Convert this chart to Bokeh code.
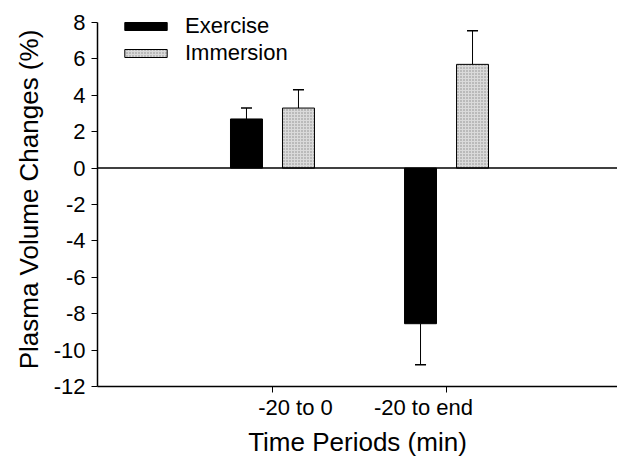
from bokeh.plotting import figure
from bokeh.models import Range1d, FixedTicker, Legend, LegendItem, Span, LinearAxis
from bokeh.embed import file_html
from bokeh.resources import INLINE

categories = ["-20 to 0", "-20 to end"]
exercise = [2.7, -8.55]
exercise_err = [0.6, 2.25]
immersion = [3.3, 5.7]
immersion_err = [1.0, 1.85]
y_ticks = [8, 6, 4, 2, 0, -2, -4, -6, -8, -10, -12]

group_x = [3.365, 6.712]
label_x = [3.808, 6.269]
off = 0.5
bw = 0.615
cap = 0.106
FONT = "Liberation Sans"

p = figure(width=617, height=459, output_backend="svg", toolbar_location=None,
           x_range=Range1d(0, 10), y_range=Range1d(-12, 8.55),
           min_border_left=97, min_border_right=0, min_border_top=12, min_border_bottom=70)
p.outline_line_color = None
p.grid.grid_line_color = None
p.background_fill_color = "white"

ex_x = [g - off for g in group_x]
im_x = [g + off for g in group_x]

r_ex = p.vbar(x=ex_x, top=exercise, bottom=0, width=bw, fill_color="black", line_color="black")
r_im = p.vbar(x=im_x, top=immersion, bottom=0, width=bw, fill_color="#dadada", line_color="black",
              hatch_pattern="dot", hatch_color="#8a8a8a", hatch_scale=3)

def errbars(xs, vals, errs):
    ends = [v + e if v >= 0 else v - e for v, e in zip(vals, errs)]
    p.segment(x0=xs, y0=vals, x1=xs, y1=ends, line_color="black", line_width=1)
    p.segment(x0=[x - cap for x in xs], y0=ends, x1=[x + cap for x in xs], y1=ends,
              line_color="black", line_width=1.5)

errbars(ex_x, exercise, exercise_err)
errbars(im_x, immersion, immersion_err)

p.add_layout(Span(location=0, dimension="width", line_color="black", line_width=1.5))

# y axis
ya = p.yaxis[0]
ya.ticker = FixedTicker(ticks=y_ticks)
ya.bounds = (-12, 8)
ya.major_label_overrides = {t: str(t) for t in y_ticks}
ya.minor_tick_line_color = None
ya.axis_label = "Plasma Volume Changes (%)"
ya.major_label_text_font_size = "22px"
ya.axis_label_text_font_size = "26px"
ya.axis_label_standoff = 7
ya.major_label_standoff = 6

# x axis: tick marks at group centres (no labels)
xa = p.xaxis[0]
xa.ticker = FixedTicker(ticks=group_x)
xa.major_label_overrides = {x: "" for x in group_x}
xa.major_label_text_font_size = "1px"
xa.major_label_standoff = 0
xa.minor_tick_line_color = None

# second x axis carrying the period labels and the title
xl = LinearAxis(ticker=FixedTicker(ticks=label_x),
                major_label_overrides={x: c for x, c in zip(label_x, categories)})
xl.axis_line_color = None
xl.major_tick_line_color = None
xl.minor_tick_line_color = None
xl.major_tick_out = 0
xl.major_tick_in = 0
xl.major_label_standoff = 2
xl.major_label_text_font_size = "22px"
xl.axis_label = "Time Periods (min)"
xl.axis_label_text_font_size = "26px"
xl.axis_label_standoff = 4
p.add_layout(xl, "below")

for ax in (xa, ya, xl):
    ax.axis_label_text_font = FONT
    ax.axis_label_text_font_style = "normal"
    ax.axis_label_text_color = "black"
    ax.major_label_text_font = FONT
    ax.major_label_text_color = "black"
for ax in (xa, ya):
    ax.axis_line_color = "black"
    ax.axis_line_width = 1.5
    ax.major_tick_line_color = "black"
    ax.major_tick_out = 6
    ax.major_tick_in = 0

legend = Legend(items=[LegendItem(label="Exercise", renderers=[r_ex]),
                       LegendItem(label="Immersion", renderers=[r_im])],
                location=(22, 320), orientation="vertical")
legend.label_text_font = FONT
legend.label_text_font_size = "22px"
legend.label_text_color = "black"
legend.glyph_width = 53
legend.glyph_height = 10
legend.spacing = 1
legend.padding = 0
legend.margin = 0
legend.label_standoff = 13
legend.label_height = 22
legend.border_line_color = None
legend.background_fill_alpha = 0
p.add_layout(legend)

open("out.html", "w").write(file_html(p, INLINE))
